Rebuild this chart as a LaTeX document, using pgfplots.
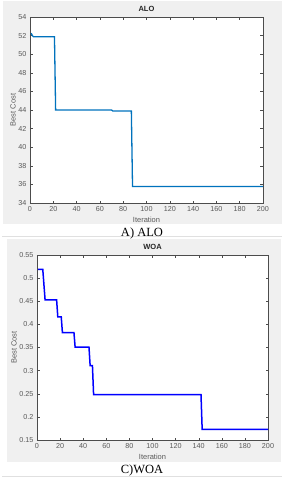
\documentclass[border=0pt]{standalone}
\usepackage{pgfplots}
\pgfplotsset{compat=1.18}
\usepackage{fontspec}
\setmainfont{Liberation Sans}
\newfontfamily\capfont{Liberation Serif}
\definecolor{panel}{RGB}{240,240,240}
\definecolor{matblue}{RGB}{0,114,189}
\definecolor{ticktxt}{RGB}{90,90,90}
\begin{document}
\begin{tikzpicture}[x=1pt,y=1pt]
\useasboundingbox (0,0) rectangle (284,-480);
\fill[white] (0,0) rectangle (284,-480);
\fill[panel] (3,-1) rectangle (282,-224);
\fill[panel] (7,-239) rectangle (281,-462);
\draw[black!12,line width=0.6pt] (2,-236.5) -- (282,-236.5);
\draw[black!12,line width=0.6pt] (2,-476.5) -- (282,-476.5);
\node[font=\capfont\fontsize{12.5}{14}\selectfont] at (142,-233) {A) ALO};
\node[font=\capfont\fontsize{12.5}{14}\selectfont] at (142,-470) {C)WOA};
\pgfplotsset{every axis/.append style={
  scale only axis, anchor=south west,
  axis background/.style={fill=white},
  tick align=inside,
  axis line style={black!70, line width=0.5pt},
  tick style={black!70, line width=0.4pt},
  major tick length=2.5pt,
  ticklabel style={font=\fontsize{7.2}{8}\selectfont, text=ticktxt},
  /pgf/number format/assume math mode=true,
  label style={font=\fontsize{7.5}{9}\selectfont, text=ticktxt},
  ylabel style={yshift=-4pt},
  xlabel style={yshift=1pt},
  title style={font=\bfseries\fontsize{7.5}{9}\selectfont, text=black!85, yshift=-4.5pt},
  xlabel=Iteration, ylabel=Best Cost,
  xmin=0, xmax=200, xtick={0,20,...,200},
}}
\begin{axis}[
  at={(30pt,-203pt)}, width=233pt, height=186pt,
  ymin=34, ymax=54, ytick={34,36,...,54},
  title={ALO},
]
\addplot[matblue, line width=1.3pt] coordinates {
(1,52.25)(2,52.0)(3,51.88)(21,51.88)(22,44.0)(70,44.0)(71,43.9)(87,43.9)(88,35.78)(200,35.78)};
\end{axis}
\begin{axis}[
  at={(37pt,-440pt)}, width=231pt, height=185pt,
  ymin=0.15, ymax=0.55, ytick={0.15,0.2,0.25,0.3,0.35,0.4,0.45,0.5,0.55},
  yticklabel style={/pgf/number format/fixed},
  title={WOA},
]
\addplot[blue, line width=1.5pt] coordinates {
(1,0.519)(5,0.519)(7,0.453)(17,0.453)(18,0.416)(21,0.416)(22,0.382)(32,0.382)(33,0.351)(45,0.351)(46,0.311)(48,0.311)(49,0.248)(142,0.248)(143,0.173)(200,0.173)};
\end{axis}
\end{tikzpicture}
\end{document}
